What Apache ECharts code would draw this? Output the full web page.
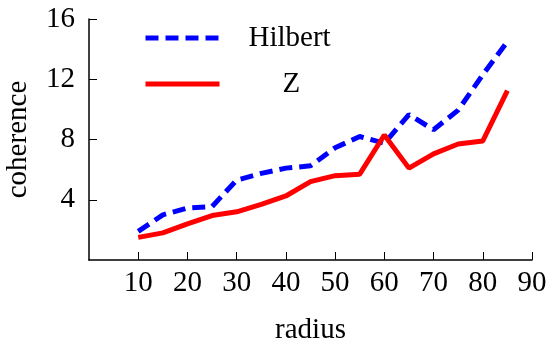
<!DOCTYPE html>
<html>
<head>
<meta charset="utf-8">
<script src="https://cdn.jsdelivr.net/npm/echarts@6/dist/echarts.min.js"></script>
<style>
  html, body { margin: 0; padding: 0; background: #fff; }
  #chart { width: 547px; height: 347px; }
</style>
</head>
<body>
<div id="chart"></div>
<script>
var radius = [10, 15, 20, 25, 30, 35, 40, 45, 50, 55, 60, 65, 70, 75, 80, 85];
var hilbert = [1.9, 3.0, 3.45, 3.55, 5.3, 5.75, 6.1, 6.25, 7.45, 8.2, 7.75, 9.65, 8.65, 9.95, 12.3, 14.5];
var zValues = [1.5, 1.8, 2.4, 2.95, 3.2, 3.7, 4.25, 5.2, 5.6, 5.7, 8.3, 6.1, 7.05, 7.7, 7.9, 11.25];
var xTicks = [0, 90, 10];   // min, max, interval
var yTicks = [0, 16, 4];

var font = 'Liberation Serif';

function pairs(xs, ys) {
    return xs.map(function (x, i) { return [x, ys[i]]; });
}

var option = {
    animation: false,
    backgroundColor: '#fff',
    textStyle: { fontFamily: font },
    grid: { left: 89, right: 15, top: 19, bottom: 87, outerBoundsMode: 'none', containLabel: false },
    legend: {
        orient: 'vertical',
        left: 138,
        top: 18,
        itemWidth: 74,
        itemHeight: 14,
        itemGap: 16,
        itemStyle: { opacity: 0 },
        textStyle: { fontFamily: font, fontSize: 29, color: '#000', lineHeight: 30 },
        data: [
            {
                name: 'Hilbert',
                lineStyle: { color: '#0000ff', width: 5, type: [13, 7] },
                textStyle: { fontFamily: font, fontSize: 29, color: '#000', padding: [0, 0, 0, 24] }
            },
            {
                name: 'Z',
                lineStyle: { color: '#ff0000', width: 5 },
                textStyle: { fontFamily: font, fontSize: 29, color: '#000', padding: [0, 0, 0, 58] }
            }
        ]
    },
    xAxis: {
        type: 'value',
        min: xTicks[0], max: xTicks[1], interval: xTicks[2],
        name: 'radius',
        nameLocation: 'middle',
        nameGap: 56,
        nameTextStyle: { fontFamily: font, fontSize: 29, color: '#000' },
        axisLine: { lineStyle: { color: '#000', width: 1.5 } },
        axisTick: { inside: true, length: 8, lineStyle: { color: '#000', width: 1 } },
        axisLabel: { showMinLabel: false, fontFamily: font, fontSize: 29, color: '#000', margin: 9 },
        splitLine: { show: false }
    },
    yAxis: {
        type: 'value',
        min: yTicks[0], max: yTicks[1], interval: yTicks[2],
        name: 'coherence',
        nameLocation: 'middle',
        nameGap: 56,
        nameTextStyle: { fontFamily: font, fontSize: 29, color: '#000' },
        axisLine: { show: true, lineStyle: { color: '#000', width: 1.5 } },
        axisTick: { show: true, inside: true, length: 8, lineStyle: { color: '#000', width: 1 } },
        axisLabel: { showMinLabel: false, fontFamily: font, fontSize: 29, color: '#000', margin: 14 },
        splitLine: { show: false }
    },
    series: [
        {
            name: 'Hilbert',
            type: 'line',
            symbol: 'none',
            data: pairs(radius, hilbert),
            itemStyle: { color: '#0000ff' },
            lineStyle: { color: '#0000ff', width: 5, type: [13, 7] }
        },
        {
            name: 'Z',
            type: 'line',
            symbol: 'none',
            data: pairs(radius, zValues),
            itemStyle: { color: '#ff0000' },
            lineStyle: { color: '#ff0000', width: 5 }
        }
    ]
};

echarts.init(document.getElementById('chart')).setOption(option);
</script>
</body>
</html>
